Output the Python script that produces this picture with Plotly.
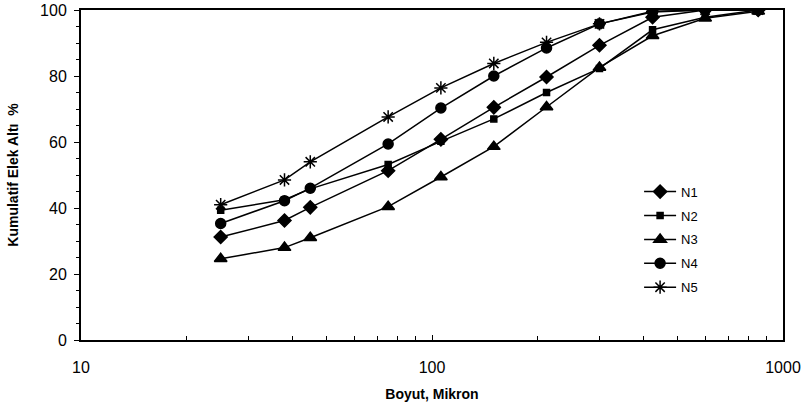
import plotly.graph_objects as go

sizes = [25, 38, 45, 75, 106, 150, 212, 300, 425, 600, 850]
n1 = [31.2, 36.2, 40.2, 51.3, 60.8, 70.5, 79.7, 89.3, 97.8, 100, 100]
n2 = [39.3, 42.5, 45.8, 53.2, 60.2, 67.0, 75.0, 82.3, 94.0, 97.8, 100]
n3 = [24.6, 28.0, 31.0, 40.4, 49.4, 58.6, 70.6, 82.6, 92.2, 97.5, 99.6]
n4 = [35.3, 42.2, 46.0, 59.4, 70.3, 80.0, 88.5, 95.8, 99.4, 100, 100]
n5 = [41.0, 48.5, 54.0, 67.6, 76.4, 83.8, 90.2, 95.8, 99.6, 100, 100]
names = ["N1", "N2", "N3", "N4", "N5"]
symbols = ["diamond", "square", "triangle-up", "circle", "asterisk-open"]
msizes = [10, 6, 11, 10, 11]

fig = go.Figure()
for i, (name, ys) in enumerate(zip(names, [n1, n2, n3, n4, n5])):
    fig.add_trace(go.Scatter(
        x=sizes, y=ys, name=name, mode="lines+markers",
        line=dict(color="black", width=1.5),
        marker=dict(symbol=symbols[i], size=msizes[i], color="black",
                    line=dict(color="black", width=1.5)),
        legendgroup=name,
    ))

fig.update_layout(
    width=803, height=411,
    margin=dict(l=81, r=20, t=10, b=71, autoexpand=False),
    paper_bgcolor="white", plot_bgcolor="white",
    font=dict(family="Liberation Sans, Arial", color="black", size=16),
    showlegend=True,
    legend=dict(x=0.795, y=0.495, xanchor="left", yanchor="top",
                font=dict(size=13), bgcolor="rgba(0,0,0,0)",
                tracegroupgap=4, itemwidth=32),
)
fig.update_xaxes(
    type="log", range=[1, 3], showgrid=False, zeroline=False, automargin=False,
    showline=True, linecolor="black", linewidth=2, mirror=True,
    tickvals=[10, 100, 1000], ticktext=["10", "100", "1000"],
    ticks="inside", ticklen=5, tickcolor="black", ticklabelstandoff=12,
    minor=dict(tickvals=[20, 30, 40, 50, 60, 70, 80, 90, 200, 300, 400, 500, 600, 700, 800, 900],
               ticks="inside", ticklen=4, tickcolor="black"),
    title=dict(text="<b>Boyut, Mikron</b>", font=dict(size=14), standoff=14),
)
fig.update_yaxes(
    range=[0, 100], showgrid=False, zeroline=False, automargin=False,
    showline=True, linecolor="black", linewidth=2, mirror=True,
    tickvals=[0, 20, 40, 60, 80, 100],
    ticks="outside", ticklen=5, tickcolor="black", ticklabelstandoff=4,
    minor=dict(dtick=5, ticks="outside", ticklen=3, tickcolor="black"),
    title=dict(text="<b>Kumulatif Elek Altı  %</b>", font=dict(size=14), standoff=18),
)
fig.write_html("out.html", config={"displayModeBar": False},
               post_script="document.body.style.margin='0';")
